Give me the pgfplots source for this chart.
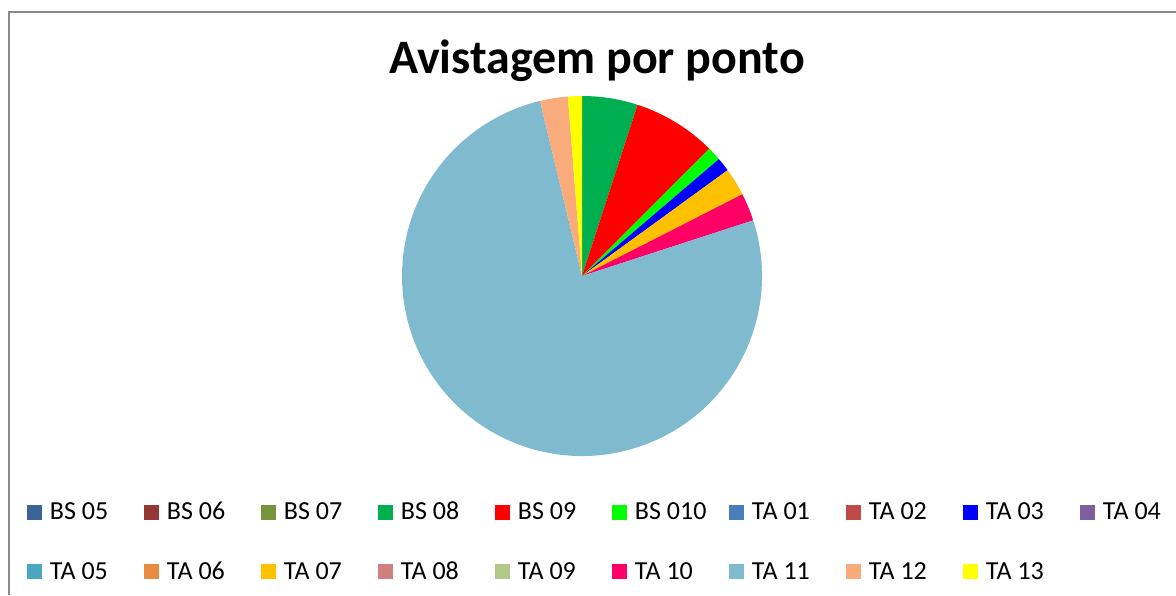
\documentclass[border=0pt]{standalone}
\usepackage{pgfplots}
\usepackage{pgfplotstable}
\pgfplotsset{compat=1.18}
\usepackage{fontspec}
\setmainfont{Carlito}

% slice colours (Excel-like)
\definecolor{cBSfive}{HTML}{3C6496}
\definecolor{cBSsix}{HTML}{953735}
\definecolor{cBSseven}{HTML}{77933C}
\definecolor{cBSeight}{HTML}{00B050}
\definecolor{cBSnine}{HTML}{FF0000}
\definecolor{cBSten}{HTML}{00FF00}
\definecolor{cTAone}{HTML}{4A7EBB}
\definecolor{cTAtwo}{HTML}{BE4B48}
\definecolor{cTAthree}{HTML}{0000FF}
\definecolor{cTAfour}{HTML}{7D5FA0}
\definecolor{cTAfive}{HTML}{4AA7C2}
\definecolor{cTAsix}{HTML}{E98B42}
\definecolor{cTAseven}{HTML}{FFC000}
\definecolor{cTAeight}{HTML}{D07F7E}
\definecolor{cTAnine}{HTML}{B1C889}
\definecolor{cTAten}{HTML}{FF0066}
\definecolor{cTAeleven}{HTML}{7FBACE}
\definecolor{cTAtwelve}{HTML}{F9AB7C}
\definecolor{cTAthirteen}{HTML}{FFFF00}
\definecolor{framegray}{HTML}{8A8A8A}

% sightings per point
\pgfplotstableread[col sep=comma]{
name,value,color
BS 05,0,cBSfive
BS 06,0,cBSsix
BS 07,0,cBSseven
BS 08,4,cBSeight
BS 09,6,cBSnine
BS 010,1,cBSten
TA 01,0,cTAone
TA 02,0,cTAtwo
TA 03,1,cTAthree
TA 04,0,cTAfour
TA 05,0,cTAfive
TA 06,0,cTAsix
TA 07,2,cTAseven
TA 08,0,cTAeight
TA 09,0,cTAnine
TA 10,2,cTAten
TA 11,61,cTAeleven
TA 12,2,cTAtwelve
TA 13,1,cTAthirteen
}\avist

\pgfplotstablegetrowsof{\avist}
\pgfmathtruncatemacro\lastrow{\pgfplotsretval-1}
\def\total{0}
\pgfplotsforeachungrouped \ii in {0,...,\lastrow}{%
  \pgfplotstablegetelem{\ii}{value}\of\avist
  \pgfmathsetmacro\total{\total+\pgfplotsretval}}

% build the slices and legend entries (clockwise from 12 o'clock)
\def\piecmds{}
\def\cum{0}
\pgfplotsforeachungrouped \ii in {0,...,\lastrow}{%
  \pgfplotstablegetelem{\ii}{value}\of\avist \let\sval\pgfplotsretval
  \pgfplotstablegetelem{\ii}{color}\of\avist \let\scol\pgfplotsretval
  \pgfplotstablegetelem{\ii}{name}\of\avist \let\sname\pgfplotsretval
  \pgfmathsetmacro\sa{90-360*(\cum/\total)}%
  \pgfmathsetmacro\sb{90-360*((\cum+\sval)/\total)}%
  \pgfmathsetmacro\sxa{cos(\sa)}%
  \pgfmathsetmacro\sya{sin(\sa)}%
  \pgfmathsetmacro\spos{\sval>0 ? 1 : 0}%
  \ifdim\spos pt>0.5pt
    \edef\piecmds{\unexpanded\expandafter{\piecmds}%
      \noexpand\fill[\scol] (axis cs:0,0) -- (axis cs:\sxa,\sya)
      arc[start angle=\sa, end angle=\sb, radius=90pt] -- cycle;}%
  \fi
  \edef\piecmds{\unexpanded\expandafter{\piecmds}%
    \noexpand\addlegendimage{fill=\scol}%
    \noexpand\addlegendentry{\noexpand\makebox[51pt][l]{\noexpand\hspace{4pt}\sname}}}%
  \pgfmathsetmacro\cum{\cum+\sval}%
}

\begin{document}
\begin{tikzpicture}
\draw[framegray, line width=1pt] (4.25pt,0pt) -- (4.25pt,291.25pt) -- (588pt,291.25pt);

\node[anchor=base, font=\fontsize{24}{28}\selectfont\bfseries] at (298.5pt,260.5pt) {Avistagem por ponto};

\begin{axis}[
    hide axis,
    x=90pt, y=90pt,
    xmin=-1, xmax=1, ymin=-1, ymax=1,
    anchor=center,
    at={(291pt,159.5pt)},
    legend columns=10,
    legend image code/.code={\fill[#1, draw=none] (0pt,0pt) rectangle (7.5pt,7.5pt);},
    legend style={
        at={(-1.0417,-0.1275)}, anchor=north west,
        draw=none, fill=none, inner sep=0pt, outer sep=0pt,
        column sep=0pt, row sep=19.3pt,
        cells={anchor=base west},
        nodes={inner sep=0pt, outer sep=0pt},
        font=\fontsize{13}{15}\selectfont
    }
]
\piecmds
\end{axis}
\pgfresetboundingbox
\path[use as bounding box] (0pt,0pt) rectangle (588pt,297.5pt);
\end{tikzpicture}
\end{document}
